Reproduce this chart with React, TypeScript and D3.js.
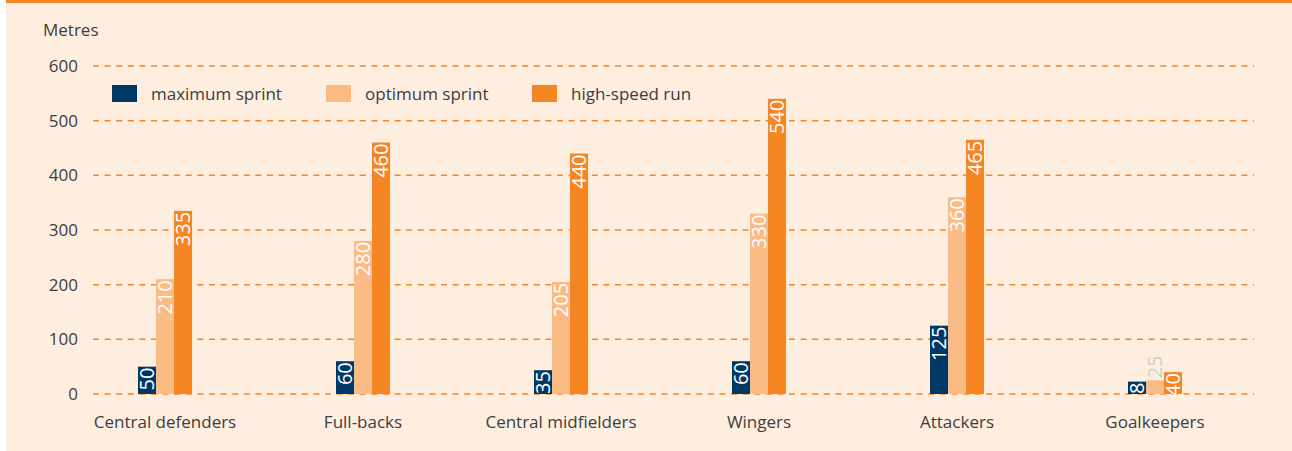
import { useMemo } from "react";
import * as d3 from "d3";

const WIDTH = 1292;
const HEIGHT = 451;

const categories = ["Central defenders", "Full-backs", "Central midfielders", "Wingers", "Attackers", "Goalkeepers"];
const seriesNames = ["maximum sprint", "optimum sprint", "high-speed run"];
const maximumSprint = [50, 60, 35, 60, 125, 8];
const optimumSprint = [210, 280, 205, 330, 360, 25];
const highSpeedRun = [335, 460, 440, 540, 465, 40];
const yTicks = [0, 100, 200, 300, 400, 500, 600];

const COLORS = ["#003865", "#FBBB85", "#F68524"];
const BG = "#FEEEE0";
const TEXT = "#3d3d3d";
const FONT = "'Open Sans', 'Noto Sans', sans-serif";
const LABEL_SIZE = 20;
const FS = 17;

const App = () => {
  const values = [maximumSprint, optimumSprint, highSpeedRun];

  const x = useMemo(() => d3.scaleBand<string>().domain(categories).range([66, 1254]), []);
  const y = useMemo(() => d3.scaleLinear().domain([0, 600]).range([394, 66]), []);
  const xSub = useMemo(
    () => d3.scaleBand<string>().domain(seriesNames).range([0, 54]),
    []
  );

  const bars = categories.flatMap((cat, ci) =>
    seriesNames.map((s, si) => {
      const v = values[si][ci];
      const bx = x(cat)! + x.bandwidth() / 2 - 27 + xSub(s)!;
      const bw = xSub.bandwidth();
      const top = y(v);
      const h = y(0) - top;
      const label = String(v);
      const textLen = label.length * 0.57 * LABEL_SIZE;
      const fits = textLen <= h + 3;
      const cx = bx + bw / 2;
      let labelEl;
      if (fits) {
        labelEl = (
          <text transform={`translate(${cx},${top + 1}) rotate(-90)`} textAnchor="end" dy="0.36em" fill="#fff" fontSize={LABEL_SIZE}>
            {label}
          </text>
        );
      } else if (si === 0) {
        // label box in the bar colour when the bar is too short
        const boxH = textLen + 1;
        labelEl = (
          <g>
            <rect x={bx} y={y(0) - boxH} width={bw} height={boxH} fill={COLORS[si]} />
            <text transform={`translate(${cx},${y(0)}) rotate(-90)`} textAnchor="start" dy="0.36em" fill="#fff" fontSize={LABEL_SIZE}>
              {label}
            </text>
          </g>
        );
      } else {
        labelEl = (
          <text transform={`translate(${cx},${top - 2}) rotate(-90)`} textAnchor="start" dy="0.36em" fill="#cfcfcf" fontSize={LABEL_SIZE}>
            {label}
          </text>
        );
      }
      return (
        <g key={`${ci}-${si}`}>
          <rect x={bx} y={top} width={bw} height={h} fill={COLORS[si]} />
          {labelEl}
        </g>
      );
    })
  );

  const legendX = [112, 326, 532];

  return (
    <svg
      width={WIDTH}
      height={HEIGHT}
      style={{ position: "absolute", left: 0, top: 0 }}
      fontFamily={FONT}
    >
      <rect x={0} y={0} width={WIDTH} height={HEIGHT} fill="#fff" />
      <rect x={6} y={0} width={WIDTH - 6} height={HEIGHT} fill={BG} />
      <rect x={6} y={0} width={WIDTH - 6} height={3} fill="#F68524" />

      <text x={43} y={36} fontSize={FS} fill={TEXT}>
        Metres
      </text>

      {yTicks.map((t) => (
        <g key={t}>
          <line x1={93} x2={1254} y1={y(t)} y2={y(t)} stroke="#F68524" strokeWidth={1.5} strokeDasharray="6,5.6" />
          <text x={78} y={y(t)} dy="0.36em" textAnchor="end" fontSize={FS} fill={TEXT}>
            {t}
          </text>
        </g>
      ))}

      {seriesNames.map((s, i) => (
        <g key={s}>
          <rect x={legendX[i]} y={85} width={25} height={17} fill={COLORS[i]} />
          <text x={legendX[i] + 39} y={100} fontSize={FS} fill={TEXT}>
            {s}
          </text>
        </g>
      ))}

      {bars}

      {categories.map((c) => (
        <text key={c} x={x(c)! + x.bandwidth() / 2} y={428} textAnchor="middle" fontSize={FS} fill={TEXT}>
          {c}
        </text>
      ))}
    </svg>
  );
};

export default App;
